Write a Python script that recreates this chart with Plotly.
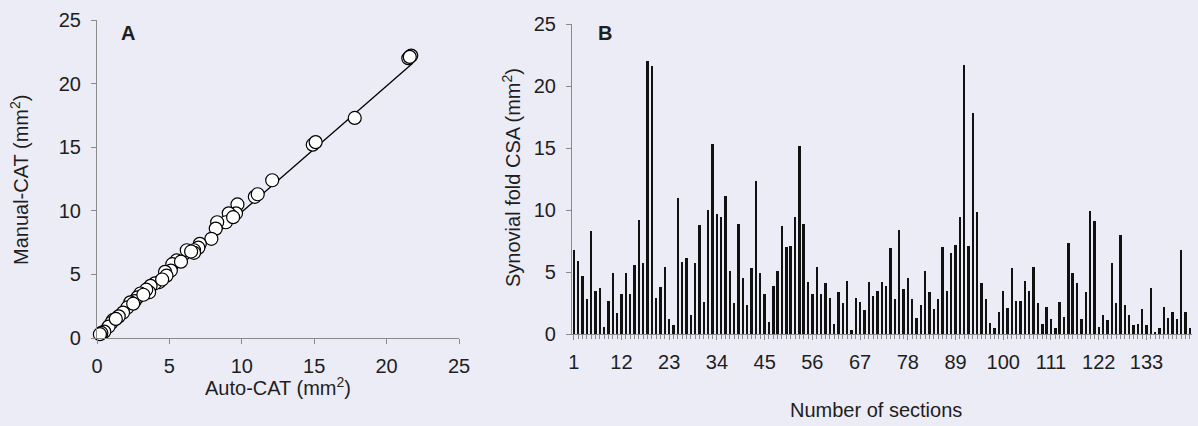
import plotly.graph_objects as go

# ---------------- Panel A data ----------------
auto_cat = [21.5, 21.7, 21.6, 17.8, 14.9, 15.1, 12.1, 10.9, 11.1, 9.7, 9.6,
            9.1, 8.9, 8.3, 8.2, 7.9, 7.1, 7.0, 6.7, 6.2, 6.7, 5.5, 5.2, 5.1,
            4.7, 4.8, 4.3, 4.0, 3.7, 3.6, 3.4, 3.0, 2.8, 2.6, 2.3, 2.1, 1.8,
            1.5, 1.1, 1.0, 0.8, 0.5, 0.3, 0.2, 9.4, 6.5, 5.8, 4.5, 3.2, 2.5, 1.3]
manual_cat = [22.0, 22.2, 22.1, 17.3, 15.2, 15.4, 12.4, 11.1, 11.3, 10.5, 9.8,
              9.8, 9.1, 9.1, 8.6, 7.8, 7.4, 7.1, 6.9, 6.9, 6.7, 6.1, 5.8, 5.3,
              5.2, 4.9, 4.4, 4.3, 4.1, 3.6, 3.8, 3.5, 3.2, 2.9, 2.8, 2.4, 2.0,
              1.7, 1.4, 1.2, 0.9, 0.5, 0.4, 0.3, 9.5, 6.8, 6.0, 4.6, 3.4, 2.7, 1.5]
fit_x = [0.2, 21.8]
fit_y = [0.2, 21.6]

# ---------------- Panel B data ----------------
sections = list(range(1, 144))
csa = [6.8, 5.9, 4.7, 2.8, 8.3, 3.5, 3.7, 0.6, 2.7, 4.9,
       1.7, 3.2, 4.9, 3.2, 5.6, 9.2, 5.7, 22.0, 21.6, 2.9,
       3.8, 5.4, 1.2, 0.7, 11.0, 5.8, 6.1, 1.5, 5.7, 8.8,
       2.6, 10.0, 15.3, 9.7, 9.4, 11.1, 5.1, 2.5, 8.9, 4.5,
       2.3, 5.3, 12.3, 4.9, 3.2, 1.0, 3.9, 5.1, 8.7, 7.0,
       7.1, 9.4, 15.2, 8.9, 4.2, 3.2, 5.4, 3.2, 4.1, 2.9,
       0.8, 3.4, 2.5, 4.3, 0.3, 2.9, 2.6, 1.9, 4.2, 3.1,
       3.5, 4.2, 3.9, 6.9, 2.8, 8.4, 3.6, 4.5, 2.8, 1.3,
       2.3, 5.1, 3.4, 2.0, 2.8, 7.0, 3.5, 6.5, 7.2, 9.4,
       21.7, 7.1, 17.8, 9.8, 4.1, 2.8, 0.9, 0.5, 1.8, 3.5,
       2.1, 5.3, 2.7, 2.7, 4.3, 3.5, 5.4, 2.5, 0.8, 2.2,
       1.2, 0.5, 2.6, 1.4, 7.3, 4.9, 4.1, 1.2, 3.4, 9.9,
       9.1, 0.6, 1.5, 1.1, 5.7, 2.5, 8.0, 2.3, 1.5, 0.7,
       0.8, 2.0, 0.7, 3.7, 0.2, 0.45, 2.2, 1.3, 1.8, 1.2,
       6.8, 1.8, 0.5]
section_labels = [1, 12, 23, 34, 45, 56, 67, 78, 89, 100, 111, 122, 133]
y_ticks = [0, 5, 10, 15, 20, 25]

W, H = 1198, 426
BG = "#ECECF6"
AX = "#8a8a8a"
FONT = "Arial, Liberation Sans, sans-serif"
TXT = "#1e1e1e"


def px(x):
    return x / W


def py(y):
    return (H - y) / H


fig = go.Figure()

fig.add_trace(go.Scatter(
    x=fit_x, y=fit_y, mode="lines",
    line=dict(color="black", width=1.3),
    xaxis="x", yaxis="y", showlegend=False, hoverinfo="skip"))
fig.add_trace(go.Scatter(
    x=auto_cat, y=manual_cat, mode="markers",
    marker=dict(symbol="circle", size=13, color="white",
                line=dict(color="black", width=1.2)),
    xaxis="x", yaxis="y", showlegend=False, cliponaxis=False))

fig.add_trace(go.Bar(
    x=sections, y=csa, width=0.55,
    marker=dict(color="#111111", line=dict(width=0)),
    xaxis="x2", yaxis="y2", showlegend=False))

axis_common = dict(showgrid=False, zeroline=False, showline=True,
                   automargin=False,
                   linecolor=AX, linewidth=1.2, ticks="outside",
                   tickcolor=AX, ticklen=5, tickwidth=1,
                   tickfont=dict(family=FONT, size=20, color=TXT))


def label(text, x, y, angle=0, bold=False, size=20):
    return dict(text=f"<b>{text}</b>" if bold else text,
                x=px(x), y=py(y), xref="paper", yref="paper",
                xanchor="center", yanchor="middle", showarrow=False,
                textangle=angle, font=dict(family=FONT, size=size, color=TXT))


fig.update_layout(
    width=W, height=H,
    margin=dict(l=0, r=0, t=0, b=0, pad=0, autoexpand=False),
    paper_bgcolor=BG, plot_bgcolor=BG,
    font=dict(family=FONT, color=TXT),
    bargap=0,
    xaxis=dict(domain=[px(97), px(459)], range=[0, 25], anchor="y",
               tickvals=y_ticks, ticklabelstandoff=5, **axis_common),
    yaxis=dict(domain=[py(338), py(20)], range=[0, 25], anchor="x",
               tickvals=y_ticks, ticklabelstandoff=6, **axis_common),
    xaxis2=dict(domain=[px(572), px(1192)], range=[0.6, 143.5], anchor="y2",
                tickvals=section_labels, tickangle=0,
                ticklabelstandoff=5,
                minor=dict(tickmode="array", tickvals=sections,
                           ticks="outside", ticklen=4, tickcolor=AX,
                           tickwidth=1, showgrid=False),
                **axis_common),
    yaxis2=dict(domain=[py(334), py(24)], range=[0, 25], anchor="x2",
                tickvals=y_ticks, ticklabelstandoff=6, **axis_common),
    annotations=[
        label("A", 128, 33, bold=True),
        label("B", 605, 33, bold=True),
        label("Manual-CAT (mm<sup>2</sup>)", 19, 180, angle=-90),
        label("Auto-CAT (mm<sup>2</sup>)", 278, 386),
        label("Synovial fold CSA (mm<sup>2</sup>)", 511, 178, angle=-90),
        label("Number of sections", 876, 410),
    ],
)

fig.write_html("out.html")
